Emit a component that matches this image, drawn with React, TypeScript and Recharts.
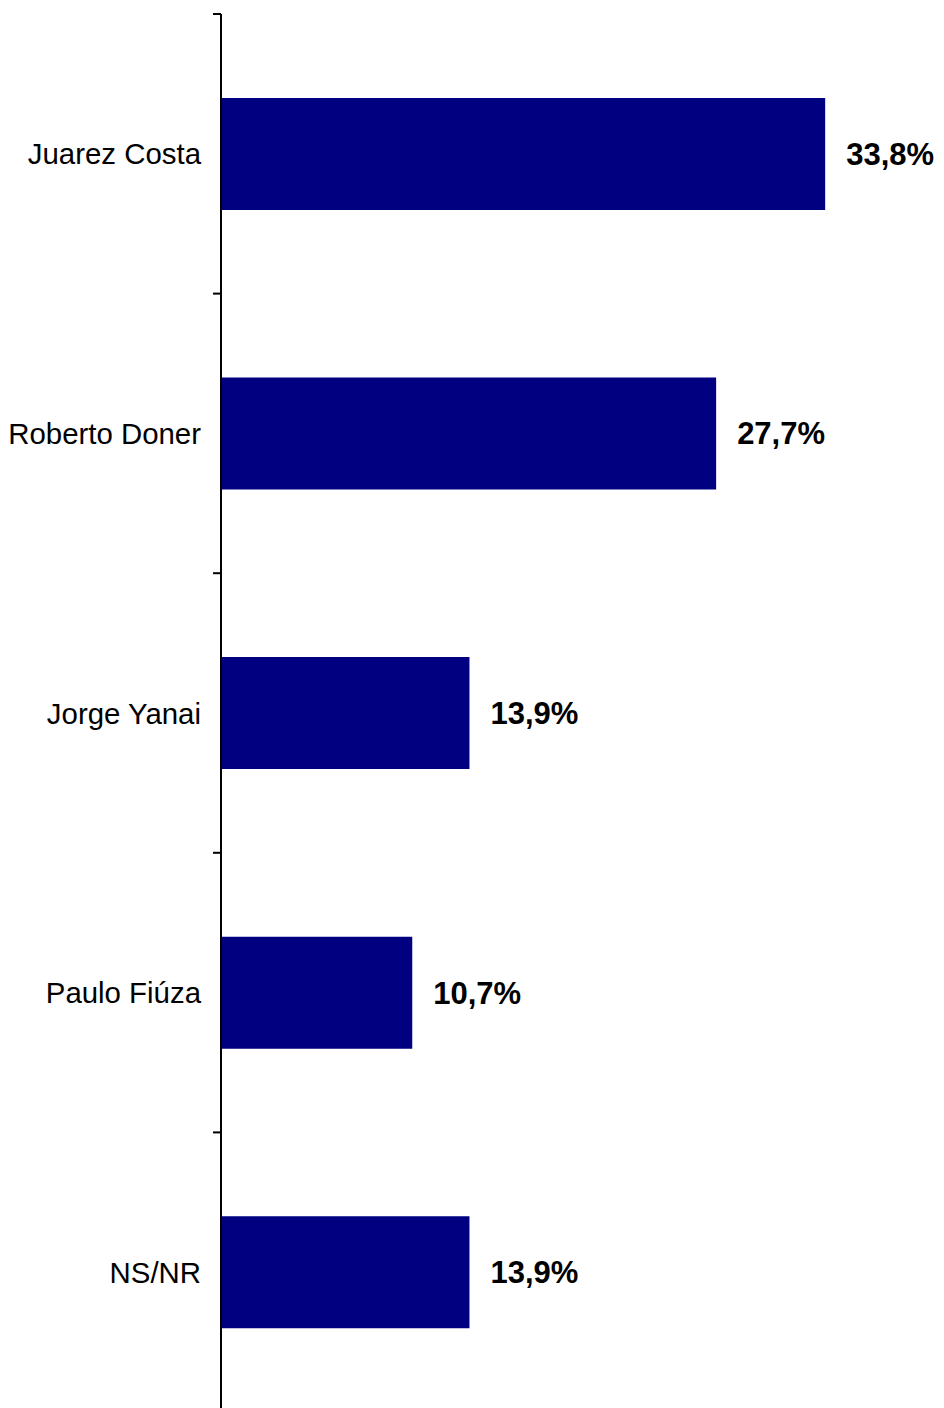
import React from 'react';
import { BarChart, Bar, XAxis, YAxis, LabelList } from 'recharts';

const categories = ['Juarez Costa', 'Roberto Doner', 'Jorge Yanai', 'Paulo Fiúza', 'NS/NR'];
const values = [33.8, 27.7, 13.9, 10.7, 13.9];
const valueLabels = ['33,8%', '27,7%', '13,9%', '10,7%', '13,9%'];

const data = categories.map((name, i) => ({ name, value: values[i], label: valueLabels[i] }));

const W = 944;
const H = 1412;
const MARGIN = { top: 14, right: 8, bottom: 0, left: 0 };
const BAND = (H - MARGIN.top - MARGIN.bottom) / categories.length;

const CategoryTick = (props: any) => {
  const { x, y, payload } = props;
  return (
    <g>
      <line x1={x - 8} x2={x} y1={y - BAND / 2} y2={y - BAND / 2} stroke="#000" strokeWidth={2} />
      <text
        x={x - 20}
        y={y}
        textAnchor="end"
        dominantBaseline="central"
        fontFamily="Liberation Sans, Arial, sans-serif"
        fontSize={29.4}
        fill="#000"
      >
        {payload.value}
      </text>
    </g>
  );
};

export default function App() {
  return (
    <div style={{ position: 'absolute', left: 0, top: 0, width: W, height: 1408, overflow: 'hidden', background: '#fff' }}>
      <BarChart width={W} height={H} data={data} layout="vertical" margin={MARGIN} barCategoryGap="30%">
        <XAxis type="number" domain={[0, 40]} hide />
        <YAxis
          type="category"
          dataKey="name"
          width={221}
          tickSize={0}
          tickMargin={0}
          tickLine={false}
          axisLine={{ stroke: '#000', strokeWidth: 2 }}
          tick={<CategoryTick />}
          interval={0}
        />
        <Bar dataKey="value" fill="#000080" isAnimationActive={false}>
          <LabelList
            dataKey="label"
            position="right"
            offset={21}
            fill="#000"
            fontSize={31}
            fontWeight="bold"
            fontFamily="Liberation Sans, Arial, sans-serif"
          />
        </Bar>
      </BarChart>
    </div>
  );
}
